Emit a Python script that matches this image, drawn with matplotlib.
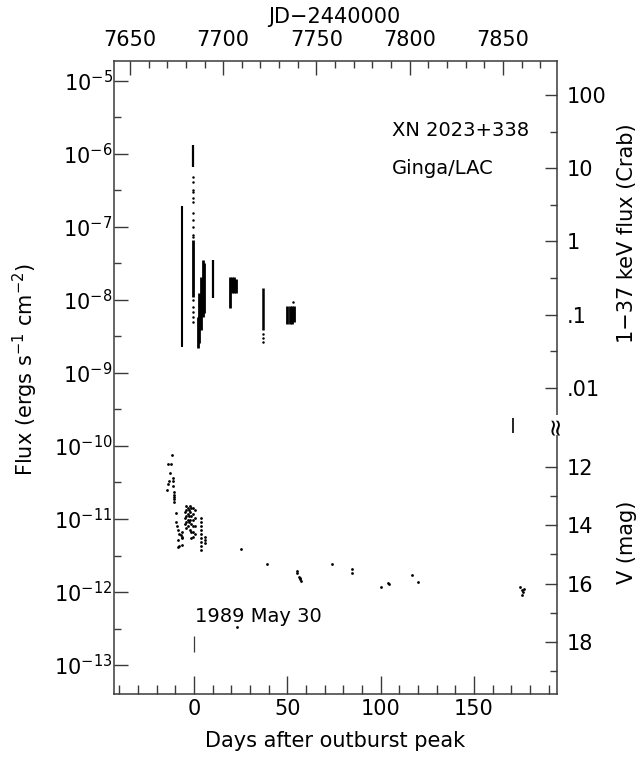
import numpy as np
import matplotlib
matplotlib.use('Agg')
import matplotlib.pyplot as plt
from matplotlib.ticker import FixedLocator, NullFormatter, LogFormatterMathtext


# Ginga/LAC 1-37 keV : dense runs of points (day, lowest flux, highest flux)
xray_day = [-6.6, -0.4, -0.4, 2.0, 2.8, 3.75, 4.7, 5.5, 10.4,
            19.5, 20.5, 21.5, 22.3, 37.2, 50.0, 51.2, 52.4, 53.6, 171.0]
xray_low = [2.24e-9, 6.65e-7, 1.10e-8, 2.17e-9, 2.56e-9, 3.86e-9, 5.9e-9, 6.6e-9, 1.05e-8,
            7.65e-9, 1.23e-8, 1.23e-8, 1.23e-8, 3.86e-9, 4.67e-9, 4.67e-9, 4.67e-9, 5.0e-9, 1.50e-10]
xray_high = [1.92e-7, 1.32e-6, 6.6e-8, 5.9e-9, 1.24e-8, 2.07e-8, 3.5e-8, 3.2e-8, 3.5e-8,
             2.05e-8, 2.05e-8, 2.05e-8, 1.9e-8, 1.44e-8, 8.2e-9, 8.2e-9, 8.2e-9, 8.2e-9, 2.41e-10]
xray_width = [1.5, 1.6, 2.0, 2.0, 2.0, 2.0, 2.0, 2.0, 1.6,
              2.0, 2.0, 2.0, 2.0, 1.8, 2.0, 2.0, 2.0, 2.0, 1.2]

# isolated X-ray points
xray_pt_day = [-0.4] * 16 + [37.2, 37.2, 37.2, 53.0]
xray_pt_flux = [4.85e-7, 4.14e-7, 3.19e-7, 3.02e-7, 2.45e-7, 2.20e-7, 1.56e-7, 1.24e-7,
                1.00e-7, 7.7e-8, 7.3e-8, 9.95e-9, 8.05e-9, 6.9e-9, 5.9e-9, 5.0e-9,
                3.4e-9, 3.0e-9, 2.67e-9, 9.4e-9]

# optical V magnitudes
opt_day = [-11.6, -13.8, -12.5, -12.7, -11.4, -11.4, -13.6, -14.1, -11.1, -14.6,
           -10.7, -10.7, -10.7, -10.7, -10.7, -9.6,
           -9.6, -9.3, -8.6, -7.9, -7.1, -6.6, -8.4, -8.6, -7.9, -6.6, -6.6, -6.6,
           -5.0, -5.0, -5.0, -4.3, -4.3, -4.3, -4.3, -4.3, -3.5, -3.5, -3.5, -3.5,
           -2.7, -2.7, -2.7, -2.0, -2.0, -2.0, -2.0, -1.4, -1.4, -1.4, -1.4, -1.4,
           -0.6, -0.6, -0.6, -0.6, -0.6, -0.6, 0.4, 0.4, 0.4, 0.4,
           3.6, 3.6, 3.6, 3.6, 3.6, 3.6, 3.6, 3.6, 3.6, 5.9, 5.9, 5.9,
           23.2, 25.2, 39.3, 55.0, 55.3, 56.5, 56.8, 57.2, 56.6, 74.0, 84.5, 84.5,
           100.2, 104.1, 104.7, 116.7, 120.2,
           174.5, 175.5, 176.5, 175.5, 177.0]
opt_vmag = [11.61, 11.90, 11.90, 12.22, 12.39, 12.48, 12.48, 12.59, 12.66, 12.80,
            12.87, 12.97, 13.04, 13.11, 13.21, 13.58,
            13.89, 14.03, 14.17, 14.31, 14.34, 14.40, 14.51, 14.74, 14.72, 14.24, 14.44, 14.68,
            13.55, 13.76, 13.96, 13.35, 13.48, 13.69, 13.90, 14.10, 13.42, 13.62, 13.83, 14.03,
            13.48, 13.69, 13.90, 13.35, 13.55, 13.83, 14.17, 13.42, 13.69, 13.96, 14.24, 14.44,
            13.42, 13.62, 13.83, 14.03, 14.24, 14.41, 13.48, 13.76, 14.03, 14.31,
            13.76, 13.90, 14.03, 14.17, 14.31, 14.44, 14.58, 14.72, 14.86, 14.41, 14.51, 14.62,
            17.49, 14.82, 15.34, 15.57, 15.65, 15.77, 15.81, 15.91, 15.85, 15.33, 15.51, 15.62,
            16.11, 15.98, 16.01, 15.69, 15.94,
            16.12, 16.22, 16.30, 16.40, 16.18]

flux_decades = [-5, -6, -7, -8, -9, -10, -11, -12, -13]
crab_ticks = [100, 10, 1, 0.1, 0.01]
crab_labels = ['100', '10', '1', '.1', '.01']
crab_minor = [31.6, 3.16, 0.316, 0.0316]
vmag_ticks = [12, 14, 16, 18]
vmag_minor = [13, 15, 17, 19]

CRAB = 6.3e-8          # erg s^-1 cm^-2 for 1 Crab in 1-37 keV
V0_FLUX = 3.27e-6      # flux of a V = 0 source on this scale
DAY0_JD = 7684.4


def vflux(v):
    return V0_FLUX * 10 ** (-0.4 * np.asarray(v, dtype=float))


W, H = 642, 757
fig = plt.figure(figsize=(W / 100, H / 100), dpi=100)
L, R, T, B = 114, 557, 61, 694.3
ax = fig.add_axes([L / W, 1 - B / H, (R - L) / W, (B - T) / H])

ink = '#3a3a3a'
ax.set_yscale('log')
ax.set_xlim(-42.9, 194.5)
ax.set_ylim(10 ** -13.40, 10 ** -4.73)

ax.vlines(xray_day, xray_low, xray_high, color='black', lw=xray_width)
ax.plot(xray_pt_day, xray_pt_flux, 'o', color='black', ms=1.8, mew=0)
ax.plot(opt_day, vflux(opt_vmag), 'o', color='black', ms=2.0, mew=0)
# marker for the outburst peak
ax.vlines([0], 1.51e-13, 2.51e-13, color=ink, lw=0.9)

for s in ax.spines.values():
    s.set_color(ink)
    s.set_linewidth(1.1)

ax.xaxis.set_major_locator(FixedLocator([0, 50, 100, 150]))
ax.xaxis.set_minor_locator(FixedLocator(np.arange(-40, 195, 10)))
ax.xaxis.set_minor_formatter(NullFormatter())
ax.yaxis.set_major_locator(FixedLocator([10.0 ** d for d in flux_decades]))
ax.yaxis.set_major_formatter(LogFormatterMathtext())
ax.yaxis.set_minor_locator(FixedLocator([10.0 ** (d - 0.5) for d in flux_decades[:-1]]))
ax.yaxis.set_minor_formatter(NullFormatter())
ax.tick_params(axis='x', which='major', direction='in', length=13, width=1, color=ink,
               labelsize=15, pad=3.4, top=False)
ax.tick_params(axis='x', which='minor', direction='in', length=6.5, width=1, color=ink, top=False)
ax.tick_params(axis='y', which='major', direction='in', length=10, width=1, color=ink,
               labelsize=15, pad=1, right=False)
ax.tick_params(axis='y', which='minor', direction='in', length=5, width=1, color=ink, right=False)

# JD axis on top
axt = ax.twiny()
axt.set_xlim(-42.9 + DAY0_JD, 194.5 + DAY0_JD)
axt.xaxis.set_major_locator(FixedLocator([7650, 7700, 7750, 7800, 7850]))
axt.xaxis.set_minor_locator(FixedLocator(np.arange(7650, 7885, 10)))
axt.xaxis.set_minor_formatter(NullFormatter())
axt.tick_params(axis='x', which='major', direction='in', length=10, width=1, color=ink,
                labelsize=15, pad=8)
axt.tick_params(axis='x', which='minor', direction='in', length=5, width=1, color=ink)
for s in axt.spines.values():
    s.set_visible(False)

# Crab and V magnitude scale on the right
axr = ax.twinx()
axr.set_yscale('log')
axr.set_ylim(ax.get_ylim())
major_pos = [c * CRAB for c in crab_ticks] + list(vflux(vmag_ticks))
major_lab = crab_labels + [str(v) for v in vmag_ticks]
minor_pos = [c * CRAB for c in crab_minor] + list(vflux(vmag_minor))
axr.yaxis.set_major_locator(FixedLocator(major_pos))
axr.set_yticklabels(major_lab)
axr.yaxis.set_minor_locator(FixedLocator(minor_pos))
axr.yaxis.set_minor_formatter(NullFormatter())
axr.tick_params(axis='y', which='major', direction='in', length=8.6, width=1, color=ink,
                labelsize=15, pad=7)
axr.tick_params(axis='y', which='minor', direction='in', length=5, width=1, color=ink)
for s in axr.spines.values():
    s.set_visible(False)

fig.text(335.5 / W, 1 - 741 / H, 'Days after outburst peak', ha='center', va='center', fontsize=15)
fig.text(334 / W, 1 - 17 / H, 'JD\u22122440000', ha='center', va='center', fontsize=15)
fig.text(25 / W, 1 - 370 / H, 'Flux (ergs s$^{-1}$ cm$^{-2}$)', rotation=90,
         ha='center', va='center', fontsize=15)
fig.text(627 / W, 1 - 233 / H, '1\u221237 keV flux (Crab)', rotation=90,
         ha='center', va='center', fontsize=15)
fig.text(627 / W, 1 - 542 / H, 'V (mag)', rotation=90, ha='center', va='center', fontsize=15)
fig.text(555 / W, 1 - 425 / H, '\u2248', rotation=90, ha='center', va='center', fontsize=17,
         bbox=dict(facecolor='white', edgecolor='none', pad=0))

fig.text(392 / W, 1 - 130 / H, 'XN 2023+338', ha='left', va='center', fontsize=14)
fig.text(392 / W, 1 - 168 / H, 'Ginga/LAC', ha='left', va='center', fontsize=14)
fig.text(195 / W, 1 - 617 / H, '1989 May 30', ha='left', va='center', fontsize=14)

fig.savefig('out.png', dpi=100)
